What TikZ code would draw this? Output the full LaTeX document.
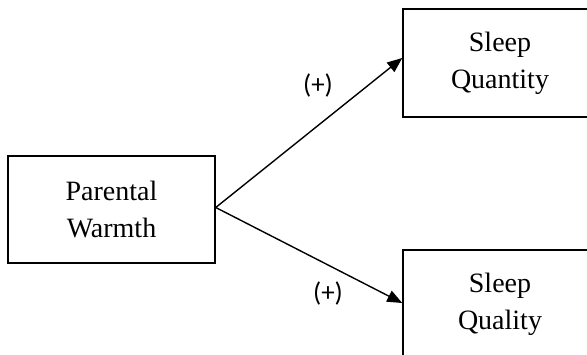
\documentclass[tikz,border=0pt]{standalone}
\usepackage{fontspec}
\setmainfont{Liberation Serif}
\newfontfamily\signfont{Carlito}
\usetikzlibrary{arrows.meta}

\begin{document}
\begin{tikzpicture}[x=1pt,y=-1pt,
  box/.style={draw, line width=1.5pt, align=center, inner sep=0pt,
    font=\fontsize{28}{37}\selectfont},
  arr/.style={-{Triangle[length=15pt,width=12pt]}, line width=1.4pt},
  sign/.style={font=\signfont\fontsize{27}{30}\selectfont}]
\useasboundingbox (0,0) rectangle (587,355);
\clip (0,0) rectangle (587,355);
\node[box, minimum width=207pt, minimum height=107pt] (pw) at (111.5,209.5) {Parental\\Warmth};
\node[box, minimum width=194pt, minimum height=108pt] (qn) at (500,63) {Sleep\\Quantity};
\node[box, minimum width=194pt, minimum height=108pt] (ql) at (500,304) {Sleep\\Quality};
\draw[arr] ([yshift=2pt]pw.east) -- ([yshift=5pt]qn.west);
\draw[arr] ([yshift=2pt]pw.east) -- ([yshift=1pt]ql.west);
\node[sign] (pqn) at (318,86) {(+)};
\node[sign] (pql) at (328,293) {(+)};
\end{tikzpicture}
\end{document}
